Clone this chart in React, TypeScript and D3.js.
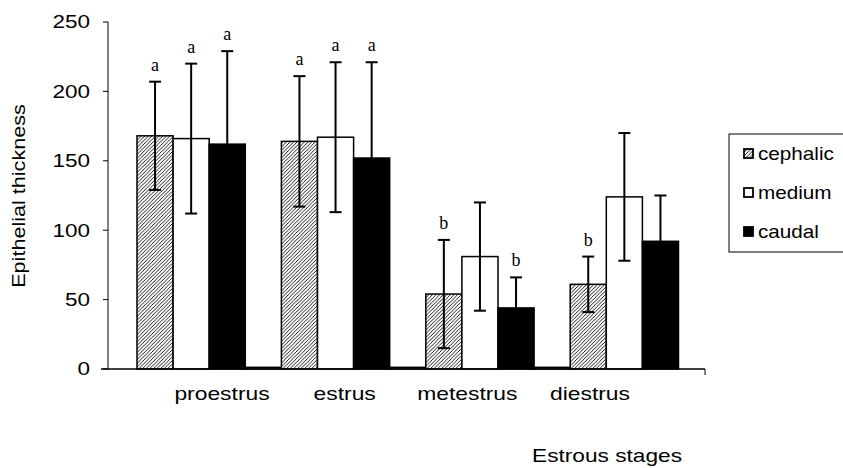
import React from "react";
import * as d3 from "d3";

const categories = ["proestrus", "estrus", "metestrus", "diestrus"];
const seriesNames = ["cephalic", "medium", "caudal"];
const cephalic = [168, 164, 54, 61];
const medium = [166, 167, 81, 124];
const caudal = [162, 152, 44, 92];
const cephalicErr = [39, 47, 39, 20];
const mediumErr = [54, 54, 39, 46];
const caudalErr = [67, 69, 22, 33];
const letters = [
  ["a", "a", "a"],
  ["a", "a", "a"],
  ["b", "", "b"],
  ["b", "", ""],
];
const yTicks = [0, 50, 100, 150, 200, 250];
const spacerValue = 1.2;

const W = 843;
const H = 468;

function SText(props: {
  x: number;
  y: number;
  sx: number;
  anchor?: string;
  size: number;
  dy?: string;
  rotate?: number;
  children: React.ReactNode;
}) {
  const { x, y, sx, anchor, size, dy, rotate, children } = props;
  const t = `translate(${x},${y})${rotate ? ` rotate(${rotate})` : ""} scale(${sx},1)`;
  return (
    <text
      transform={t}
      textAnchor={anchor || "start"}
      dy={dy}
      fontFamily="Arial, 'Liberation Sans', sans-serif"
      fontSize={size}
      fill="#000"
    >
      {children}
    </text>
  );
}

export default function App() {
  const y = d3.scaleLinear().domain([0, 250]).range([369, 22]);
  const xGroup = d3.scaleBand<string>().domain(categories).range([137, 137 + 4 * 144.4]).padding(0);
  const xInner = d3.scaleBand<string>().domain([...seriesNames, "spacer"]).range([0, xGroup.bandwidth()]).padding(0);
  const xLabel = d3.scalePoint<string>().domain(categories).range([222, 590]);
  const values = [cephalic, medium, caudal];
  const errs = [cephalicErr, mediumErr, caudalErr];
  const fills = ["url(#hatch)", "#fff", "#000"];
  const serif = "'Times New Roman', 'Liberation Serif', serif";
  const legendY = [154, 193, 232];

  return (
    <svg width={W} height={H} style={{ position: "absolute", left: 0, top: 0, background: "#fff" }}>
      <defs>
        <pattern id="hatch" patternUnits="userSpaceOnUse" width="3.6" height="3.6">
          <rect width="3.6" height="3.6" fill="#fff" />
          <path d="M-0.9,0.9 L0.9,-0.9 M0,3.6 L3.6,0 M2.7,4.5 L4.5,2.7" stroke="#000" strokeWidth="0.9" />
        </pattern>
      </defs>

      {/* spacer bars */}
      {categories.slice(0, 3).map((c) => (
        <rect
          key={"sp" + c}
          x={xGroup(c)! + xInner("spacer")!}
          y={y(spacerValue)}
          width={xInner.bandwidth()}
          height={y(0) - y(spacerValue)}
          fill="#fff"
          stroke="#000"
          strokeWidth={1.5}
        />
      ))}

      {/* bars */}
      {categories.map((c, ci) =>
        seriesNames.map((s, si) => {
          const v = values[si][ci];
          const x = xGroup(c)! + xInner(s)!;
          return (
            <rect
              key={c + s}
              x={x}
              y={y(v)}
              width={xInner.bandwidth()}
              height={y(0) - y(v)}
              fill={fills[si]}
              stroke="#000"
              strokeWidth={1.5}
            />
          );
        })
      )}

      {/* error bars */}
      {categories.map((c, ci) =>
        seriesNames.map((s, si) => {
          const v = values[si][ci];
          const e = errs[si][ci];
          const cx = xGroup(c)! + xInner(s)! + xInner.bandwidth() / 2;
          const lo = Math.max(0, v - e);
          return (
            <g key={"e" + c + s} stroke="#000" strokeWidth={2}>
              <line x1={cx} x2={cx} y1={y(v + e)} y2={y(lo)} />
              <line x1={cx - 6} x2={cx + 6} y1={y(v + e)} y2={y(v + e)} />
              <line x1={cx - 6} x2={cx + 6} y1={y(lo)} y2={y(lo)} />
            </g>
          );
        })
      )}

      {/* significance letters */}
      {categories.map((c, ci) =>
        seriesNames.map((s, si) => {
          const l = letters[ci][si];
          if (!l) return null;
          const v = values[si][ci];
          const e = errs[si][ci];
          const cx = xGroup(c)! + xInner(s)! + xInner.bandwidth() / 2;
          return (
            <text key={"l" + c + s} x={cx} y={y(v + e) - 11} textAnchor="middle" fontFamily={serif} fontSize={18} fill="#000">
              {l}
            </text>
          );
        })
      )}

      {/* axes */}
      <line x1={108} x2={108} y1={y(250)} y2={y(0)} stroke="#000" strokeWidth={1} />
      {yTicks.map((t) => (
        <g key={"yt" + t}>
          <line x1={103} x2={108} y1={y(t)} y2={y(t)} stroke="#000" strokeWidth={1} />
          <SText x={90} y={y(t)} sx={1.25} anchor="end" size={18} dy="0.36em">
            {t}
          </SText>
        </g>
      ))}
      <line x1={101} x2={705} y1={y(0)} y2={y(0)} stroke="#000" strokeWidth={1.5} />
      <line x1={705} x2={705} y1={y(0)} y2={y(0) + 6} stroke="#000" strokeWidth={1} />

      {categories.map((c) => (
        <SText key={"xl" + c} x={xLabel(c)!} y={400} sx={1.27} anchor="middle" size={18}>
          {c}
        </SText>
      ))}

      <SText x={607} y={462} sx={1.26} anchor="middle" size={18}>
        Estrous stages
      </SText>
      <SText x={25} y={196} sx={1.2} anchor="middle" size={18} rotate={-90}>
        Epithelial thickness
      </SText>

      {/* legend */}
      <rect x={729} y={134} width={120} height={118} fill="#fff" stroke="#000" strokeWidth={1} />
      {seriesNames.map((s, si) => (
        <g key={"lg" + s}>
          <rect x={744} y={legendY[si] - 5} width={9} height={9} fill={fills[si]} stroke="#000" strokeWidth={1.8} />
          <SText x={758} y={legendY[si]} sx={1.15} size={18} dy="0.36em">
            {s}
          </SText>
        </g>
      ))}
    </svg>
  );
}
